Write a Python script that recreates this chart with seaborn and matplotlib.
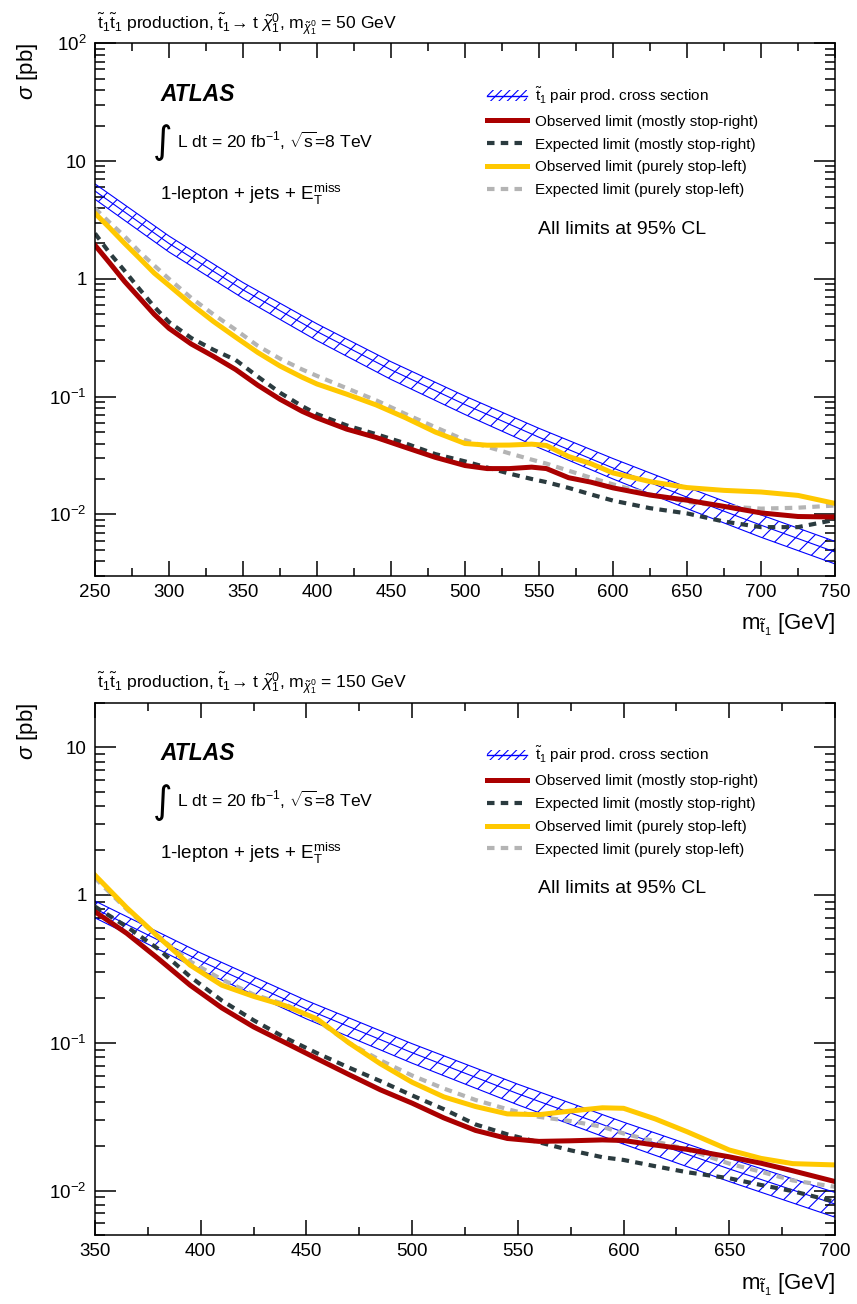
import matplotlib
matplotlib.use("Agg")
import matplotlib.pyplot as plt
import seaborn as sns
import numpy as np
import pandas as pd
from matplotlib.patches import Patch
from matplotlib.lines import Line2D
from matplotlib.ticker import MultipleLocator, LogLocator, FuncFormatter, NullFormatter

# ---------------- data: upper panel (m_chi = 50 GeV) ----------------
m_xs_top = [250, 300, 350, 400, 450, 500, 550, 600, 650, 700, 750]
xs_top = [5.57, 1.997, 0.807, 0.357, 0.169, 0.0856, 0.0452, 0.0248, 0.0140, 0.0081, 0.0048]
xs_up_top = [6.4, 2.31, 0.93, 0.415, 0.198, 0.101, 0.0538, 0.0298, 0.0170, 0.0099, 0.0059]
xs_dn_top = [4.74, 1.69, 0.685, 0.299, 0.140, 0.0705, 0.0368, 0.0200, 0.0112, 0.0064, 0.0038]

m_top = [250, 260, 270, 280, 290, 300, 315, 330, 345, 360, 375, 390, 400, 420, 440,
         460, 480, 500, 515, 530, 545, 555, 570, 585, 600, 625, 650, 675, 700, 725, 750]
obs_right_top = [1.93, 1.36, 0.95, 0.69, 0.50, 0.38, 0.28, 0.22, 0.17, 0.125, 0.095, 0.075, 0.066,
                 0.053, 0.045, 0.037, 0.0305, 0.026, 0.0245, 0.0245, 0.0252, 0.0245, 0.0205,
                 0.0188, 0.0168, 0.0146, 0.0132, 0.0117, 0.0103, 0.0096, 0.0095]
exp_right_top = [2.43, 1.65, 1.17, 0.82, 0.58, 0.43, 0.315, 0.25, 0.205, 0.148, 0.108, 0.083, 0.071,
                 0.057, 0.048, 0.040, 0.0325, 0.0282, 0.0250, 0.0222, 0.0200, 0.0188, 0.0168,
                 0.0148, 0.0131, 0.0113, 0.0102, 0.0087, 0.0078, 0.0078, 0.0090]
obs_left_top = [3.6, 2.7, 2.0, 1.5, 1.12, 0.88, 0.61, 0.435, 0.32, 0.237, 0.182, 0.146, 0.128,
                0.105, 0.085, 0.066, 0.050, 0.040, 0.0387, 0.0388, 0.0395, 0.0385, 0.031,
                0.027, 0.0225, 0.019, 0.0169, 0.016, 0.0155, 0.0145, 0.0124]
exp_left_top = [3.96, 3.0, 2.3, 1.7, 1.3, 1.0, 0.69, 0.50, 0.37, 0.27, 0.21, 0.17, 0.15,
                0.118, 0.093, 0.071, 0.055, 0.0427, 0.0375, 0.0330, 0.0292, 0.0270, 0.0235,
                0.0205, 0.018, 0.0148, 0.0128, 0.0117, 0.0112, 0.0114, 0.0119]

# ---------------- data: lower panel (m_chi = 150 GeV) ----------------
m_xs_bot = [350, 400, 450, 500, 550, 600, 650, 700]
xs_bot = [0.807, 0.357, 0.169, 0.0856, 0.0452, 0.0248, 0.0140, 0.0081]
xs_up_bot = [0.91, 0.405, 0.193, 0.0985, 0.0524, 0.0290, 0.0165, 0.0097]
xs_dn_bot = [0.70, 0.309, 0.145, 0.0727, 0.0380, 0.0206, 0.0115, 0.0066]

m_bot = [350, 365, 380, 395, 410, 425, 440, 455, 470, 485, 500, 515, 530, 545, 560,
         575, 590, 600, 615, 630, 650, 665, 680, 700]
obs_right_bot = [0.77, 0.55, 0.37, 0.245, 0.172, 0.128, 0.100, 0.078, 0.061, 0.048, 0.039, 0.031,
                 0.0255, 0.0225, 0.0215, 0.0217, 0.0220, 0.0218, 0.0203, 0.0190, 0.0169, 0.0153,
                 0.0136, 0.0115]
exp_right_bot = [0.834, 0.61, 0.43, 0.28, 0.193, 0.142, 0.108, 0.085, 0.068, 0.055, 0.044, 0.0355,
                 0.028, 0.0240, 0.0212, 0.0187, 0.0168, 0.0161, 0.0146, 0.0133, 0.0121, 0.0109,
                 0.0099, 0.0084]
obs_left_bot = [1.36, 0.82, 0.52, 0.335, 0.245, 0.206, 0.178, 0.145, 0.100, 0.072, 0.054, 0.043,
                0.037, 0.0330, 0.0326, 0.0345, 0.0363, 0.0360, 0.0305, 0.0250, 0.0188, 0.0165,
                0.0152, 0.0149]
exp_left_bot = [1.30, 0.80, 0.52, 0.355, 0.268, 0.212, 0.182, 0.142, 0.100, 0.076, 0.060, 0.049,
                0.041, 0.0355, 0.0315, 0.0295, 0.0270, 0.0243, 0.0215, 0.0190, 0.0152, 0.0134,
                0.0117, 0.0106]

legend_labels = [r"$\tilde{\mathrm{t}}_1$ pair prod. cross section",
                 "Observed limit (mostly stop-right)",
                 "Expected limit (mostly stop-right)",
                 "Observed limit (purely stop-left)",
                 "Expected limit (purely stop-left)"]

c_band = "#0000ff"
c_obs_r = "#aa0000"
c_exp_r = "#2b3b3f"
c_obs_l = "#ffc800"
c_exp_l = "#b4b4b4"

plt.rcParams["font.family"] = ["Liberation Sans", "DejaVu Sans"]
plt.rcParams["mathtext.fontset"] = "custom"
plt.rcParams["mathtext.rm"] = "Liberation Sans"
plt.rcParams["mathtext.it"] = "Liberation Sans:italic"
plt.rcParams["mathtext.bf"] = "Liberation Sans:bold"
plt.rcParams["hatch.color"] = c_band
plt.rcParams["hatch.linewidth"] = 0.8
plt.rcParams["axes.linewidth"] = 1.1

W, H = 857, 1304
fig = plt.figure(figsize=(W / 100, H / 100), dpi=100)


def fx(px):
    return px / W


def fy(py):
    return 1 - py / H


def log_label(v, pos):
    e = int(round(np.log10(v)))
    if e == 0:
        return "1"
    if e == 1:
        return "10"
    return r"$10^{%d}$" % e


def add_line(ax, m, v, color, lw, dashed=False):
    sns.lineplot(x=m, y=v, ax=ax, color=color, linewidth=lw, estimator=None, sort=False)
    line = ax.lines[-1]
    line.set_solid_joinstyle("round")
    if dashed:
        line.set_dashes((1.8, 1.5))
        line.set_dash_capstyle("butt")
    return line


def draw_panel(rect, dy, m_xs, xs, xs_up, xs_dn, m, obs_r, exp_r, obs_l, exp_l,
               xlim, ylim, mchi):
    ax = fig.add_axes(rect)
    # cross-section band
    ax.fill_between(m_xs, xs_dn, xs_up, facecolor="none", edgecolor=c_band,
                    hatch="//", linewidth=0)
    for arr in (xs_up, xs_dn, xs):
        add_line(ax, m_xs, arr, c_band, 0.8)
    # limits
    add_line(ax, m, exp_l, c_exp_l, 3.0, dashed=True)
    add_line(ax, m, obs_l, c_obs_l, 3.6)
    add_line(ax, m, exp_r, c_exp_r, 3.0, dashed=True)
    add_line(ax, m, obs_r, c_obs_r, 3.6)

    ax.set_yscale("log")
    ax.set_xlim(*xlim)
    ax.set_ylim(*ylim)
    ax.set_xlabel("")
    ax.set_ylabel("")
    ax.xaxis.set_major_locator(MultipleLocator(50))
    ax.xaxis.set_minor_locator(MultipleLocator(25))
    ax.yaxis.set_major_locator(LogLocator(base=10, numticks=12))
    ax.yaxis.set_minor_locator(LogLocator(base=10, subs=np.arange(2, 10), numticks=100))
    ax.yaxis.set_major_formatter(FuncFormatter(log_label))
    ax.yaxis.set_minor_formatter(NullFormatter())
    ax.tick_params(which="both", direction="in", top=True, right=True, width=1.1,
                   labelsize=13.5)
    ax.tick_params(axis="y", which="major", length=15, pad=6)
    ax.tick_params(axis="y", which="minor", length=7.5)
    ax.tick_params(axis="x", which="major", length=11, pad=6)
    ax.tick_params(axis="x", which="minor", length=6)

    # titles and labels
    fig.text(fx(97), fy(29 + dy),
             r"$\tilde{\mathrm{t}}_1\tilde{\mathrm{t}}_1$ production, "
             r"$\tilde{\mathrm{t}}_1$" + "\u2192 t " + r"$\tilde{\chi}_1^0$, "
             r"m$_{\tilde{\chi}_1^0}$ = %d GeV" % mchi,
             fontsize=12.6, ha="left", va="baseline")
    fig.text(fx(27), fy(43 + dy), r"$\sigma$ [pb]", rotation=90, fontsize=16,
             ha="center", va="top")
    fig.text(fx(835), fy(630 + dy), r"m$_{\tilde{\mathrm{t}}_1}$ [GeV]", fontsize=16,
             ha="right", va="baseline")

    fig.text(fx(160), fy(101 + dy), "ATLAS", fontsize=16.5, fontweight="bold",
             fontstyle="italic", ha="left", va="baseline")
    fig.text(fx(153), fy(143 + dy), "\u222b", fontsize=27, family="DejaVu Sans",
             ha="left", va="center")
    fig.text(fx(177), fy(148 + dy),
             r"L dt = 20 fb$^{-1}$, $\sqrt{\mathrm{s}}$=8 TeV",
             fontsize=12.6, ha="left", va="baseline")
    fig.text(fx(160), fy(200 + dy),
             r"1-lepton + jets + E$_{\mathrm{T}}^{\mathrm{miss}}$",
             fontsize=13.6, ha="left", va="baseline")
    fig.text(fx(538), fy(234 + dy), "All limits at 95% CL", fontsize=14,
             ha="left", va="baseline")

    handles = [
        (Patch(facecolor="none", edgecolor=c_band, hatch="////", linewidth=0),
         Line2D([], [], color=c_band, lw=1.0)),
        Line2D([], [], color=c_obs_r, lw=3.6),
        Line2D([], [], color=c_exp_r, lw=3.0, dashes=(1.8, 1.5)),
        Line2D([], [], color=c_obs_l, lw=3.6),
        Line2D([], [], color=c_exp_l, lw=3.0, dashes=(1.8, 1.5)),
    ]
    ax.legend(handles, legend_labels, loc="upper left",
              bbox_to_anchor=(fx(487), fy(85 + dy)), bbox_transform=fig.transFigure,
              frameon=False, fontsize=11, handlelength=2.6, handletextpad=0.55,
              labelspacing=0.58, borderpad=0, borderaxespad=0)
    return ax


draw_panel([fx(95), fy(576), fx(835) - fx(95), (576 - 43.3) / H], 0,
           m_xs_top, xs_top, xs_up_top, xs_dn_top,
           m_top, obs_right_top, exp_right_top, obs_left_top, exp_left_top,
           (250, 750), (0.003, 100), 50)

draw_panel([fx(95), fy(1235), fx(835) - fx(95), (1235 - 702.7) / H], 659.4,
           m_xs_bot, xs_bot, xs_up_bot, xs_dn_bot,
           m_bot, obs_right_bot, exp_right_bot, obs_left_bot, exp_left_bot,
           (350, 700), (0.005, 20), 150)

fig.savefig("out.png", dpi=100)
